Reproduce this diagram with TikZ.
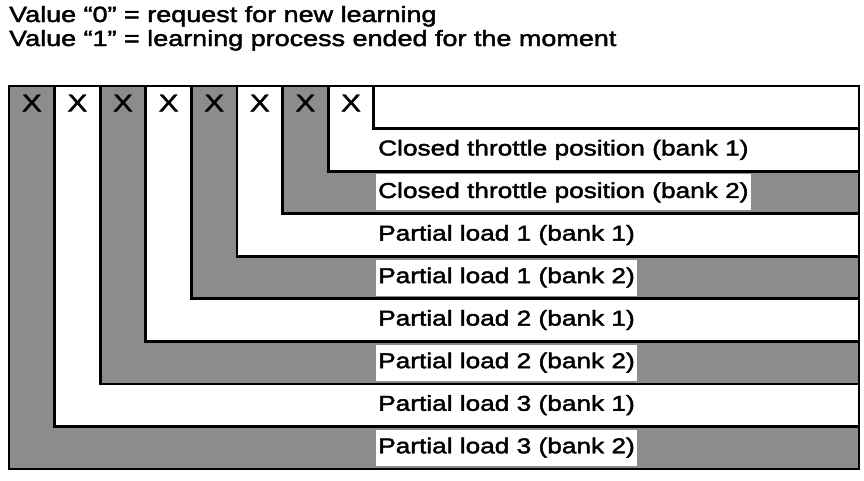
\documentclass[tikz,border=0pt]{standalone}
\usepackage{fontspec}
\setmainfont{Liberation Sans}[FakeStretch=1.22, FakeBold=2]
\usetikzlibrary{positioning}

\newcommand{\lblfont}{\fontsize{21.5}{24}\selectfont}
\newcommand{\bitfont}{\fontsize{24}{24}\selectfont}
\newcommand{\hdrfont}{\fontsize{22.1}{24}\selectfont}

\begin{document}
\begin{tikzpicture}[
    x=1pt, y=-1pt,
    dark/.style={draw=black, line width=2.8pt, fill=black!45},
    light/.style={draw=black, line width=2.8pt, fill=white},
    bitx/.style={font=\bitfont, inner sep=0pt},
    field/.style={font=\lblfont, anchor=west, inner xsep=2pt, inner ysep=0pt, minimum height=36pt},
    fielddark/.style={field, fill=white},
    note/.style={font=\hdrfont, anchor=base west, inner sep=0pt},
]
\useasboundingbox (0,0) rectangle (864,480);

% Legend
\node[note] (note0) at (9,22) {Value “0” = request for new learning};
\node[note] (note1) at (9,46) {Value “1” = learning process ended for the moment};

% Nested L-shaped fields, outermost first
\draw[dark]  (9,86)     rectangle (859,469);
\draw[light] (54.6,86)  rectangle (859,426.4);
\draw[dark]  (100.2,86) rectangle (859,383.9);
\draw[light] (145.8,86) rectangle (859,341.3);
\draw[dark]  (191.4,86) rectangle (859,298.8);
\draw[light] (237,86)   rectangle (859,256.2);
\draw[dark]  (282.6,86) rectangle (859,213.7);
\draw[light] (328.2,86) rectangle (859,171.1);
\draw[light] (373.8,86) rectangle (859,128.6);

% Bits
\node[bitx] (b0) at (31.8,103)  {X};
\node[bitx] (b1) at (77.4,103)  {X};
\node[bitx] (b2) at (123,103)   {X};
\node[bitx] (b3) at (168.6,103) {X};
\node[bitx] (b4) at (214.2,103) {X};
\node[bitx] (b5) at (259.8,103) {X};
\node[bitx] (b6) at (305.4,103) {X};
\node[bitx] (b7) at (351,103)   {X};

% Field labels
\node[field]     (ct1) at (376,149.9) {Closed throttle position (bank 1)};
\node[fielddark] (ct2) at (376,192.4) {Closed throttle position (bank 2)};
\node[field]     (pa1) at (376,235)   {Partial load 1 (bank 1)};
\node[fielddark] (pa2) at (376,277.5) {Partial load 1 (bank 2)};
\node[field]     (pb1) at (376,320)   {Partial load 2 (bank 1)};
\node[fielddark] (pb2) at (376,362.6) {Partial load 2 (bank 2)};
\node[field]     (pc1) at (376,405.2) {Partial load 3 (bank 1)};
\node[fielddark] (pc2) at (376,447.7) {Partial load 3 (bank 2)};

\end{tikzpicture}
\end{document}
